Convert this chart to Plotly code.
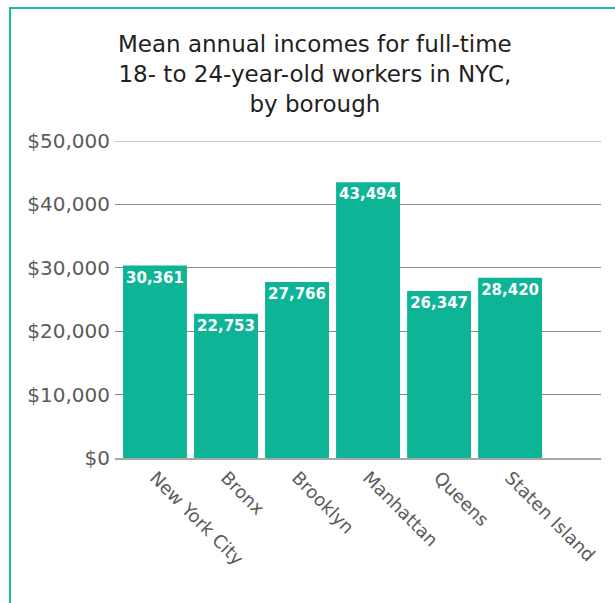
import plotly.graph_objects as go

boroughs = ["New York City", "Bronx", "Brooklyn", "Manhattan", "Queens", "Staten Island"]
incomes = [30361, 22753, 27766, 43494, 26347, 28420]
tick_values = [0, 10000, 20000, 30000, 40000, 50000]
tick_labels = ["$0", "$10,000", "$20,000", "$30,000", "$40,000", "$50,000"]

TEAL = "#0db496"
FONT = "DejaVu Sans"

fig = go.Figure(
    go.Bar(
        x=list(range(len(boroughs))),
        y=incomes,
        marker=dict(color=TEAL, line=dict(width=0)),
        text=[f"{v:,}" for v in incomes],
        textposition="inside",
        insidetextanchor="end",
        textangle=0,
        constraintext="none",
        textfont=dict(family=FONT, size=15, color="white", weight="bold"),
        hoverinfo="skip",
    )
)

fig.update_layout(
    width=615,
    height=603,
    margin=dict(l=115, r=14, t=141, b=145),
    paper_bgcolor="white",
    plot_bgcolor="white",
    bargap=0.1,
    showlegend=False,
    title=dict(
        text="Mean annual incomes for full-time<br>18- to 24-year-old workers in NYC,<br>by borough",
        x=0.512,
        xanchor="center",
        y=0.913,
        yanchor="top",
        font=dict(family=FONT, size=23, color="#231f20"),
    ),
    xaxis=dict(
        tickmode="array",
        tickvals=list(range(len(boroughs))),
        ticktext=boroughs,
        tickangle=45,
        range=[-0.563, 6.28],
        showgrid=False,
        zeroline=False,
        showline=True,
        linecolor="#a8a8a8",
        linewidth=2,
        ticks="",
        tickfont=dict(family=FONT, size=18, color="#5b5b5b"),
    ),
    yaxis=dict(
        range=[0, max(tick_values)],
        tickmode="array",
        tickvals=tick_values,
        ticktext=tick_labels,
        showgrid=True,
        gridcolor="#8a8a8a",
        gridwidth=1,
        zeroline=False,
        showline=False,
        ticks="",
        ticklabelstandoff=4,
        tickfont=dict(family=FONT, size=20, color="#5b5b5b"),
    ),
    shapes=[
        # top gridline at the upper end of the value axis
        dict(
            type="line",
            xref="paper",
            yref="y",
            x0=0,
            x1=1,
            y0=max(tick_values),
            y1=max(tick_values),
            line=dict(color="#8a8a8a", width=1),
            layer="below",
        ),
        # outer frame
        dict(
            type="rect",
            xref="paper",
            yref="paper",
            x0=(10 - 115) / 486,
            x1=(630 - 115) / 486,
            y0=(458 - 620) / 317,
            y1=(458 - 8) / 317,
            line=dict(color="#1cb99a", width=2),
            fillcolor="rgba(0,0,0,0)",
            layer="below",
        ),
    ],
)

fig.write_html("out.html")
